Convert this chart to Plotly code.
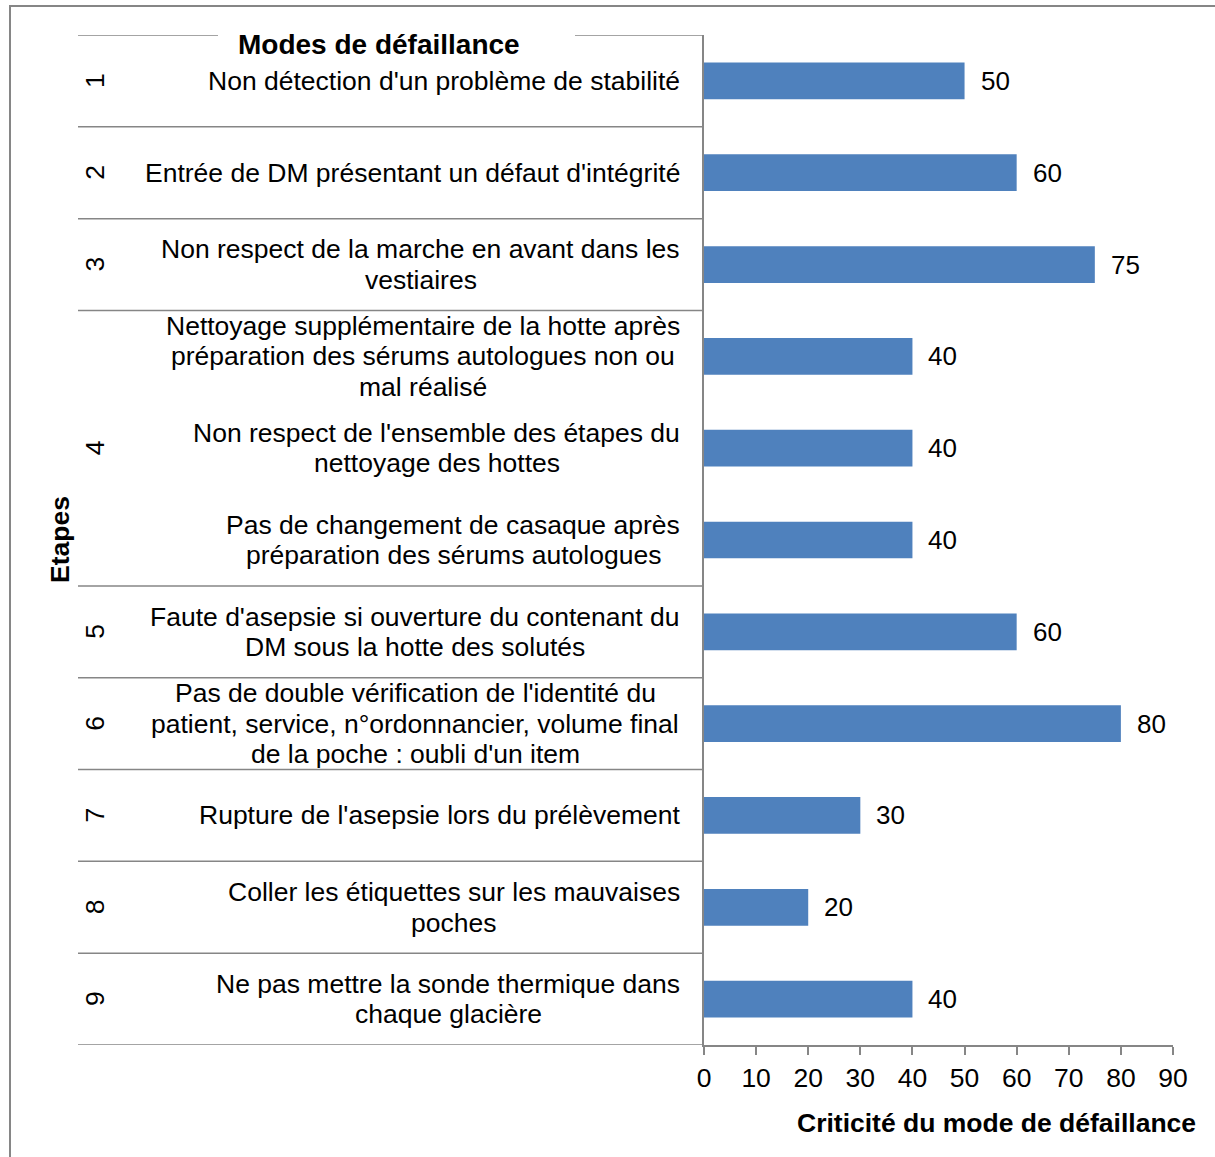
import unicodedata
import plotly.graph_objects as go

# Process steps, failure modes and their criticality scores
steps = ["1", "2", "3", "4", "4", "4", "5", "6", "7", "8", "9"]
modes = [
    "Non détection d'un problème de stabilité",
    "Entrée de DM présentant un défaut d'intégrité",
    "Non respect de la marche en avant dans les<br>vestiaires",
    "Nettoyage supplémentaire de la hotte après<br>préparation des sérums autologues non ou<br>mal réalisé",
    "Non respect de l'ensemble des étapes du<br>nettoyage des hottes",
    "Pas de changement de casaque après<br>préparation des sérums autologues",
    "Faute d'asepsie si ouverture du contenant du<br>DM sous la hotte des solutés",
    "Pas de double vérification de l'identité du<br>patient, service, n°ordonnancier, volume final<br>de la poche : oubli d'un item",
    "Rupture de l'asepsie lors du prélèvement",
    "Coller les étiquettes sur les mauvaises<br>poches",
    "Ne pas mettre la sonde thermique dans<br>chaque glacière",
]
criticity = [50, 60, 75, 40, 40, 40, 60, 80, 30, 20, 40]

x_ticks = [0, 10, 20, 30, 40, 50, 60, 70, 80, 90]
x_title = "Criticité du mode de défaillance"
y_title = "Etapes"
label_header = "Modes de défaillance"

FONT = "Liberation Sans, Arial, sans-serif"
FS = 26.5
LINE_PITCH = 30.6          # tight line spacing of the wrapped labels
LABEL_RIGHT = -24          # right edge of label blocks, px from the axis
BAR = "#4F81BD"
GREY = "#868686"
W, H = 1215, 1157
L, R, T, B = 704, 42, 35, 112
PW, PH = W - L - R, H - T - B

# Arial / Liberation Sans advance widths (1/1000 em)
ADV = dict(zip("abcdefghijklmnopqrstuvwxyz",
               [556, 556, 500, 556, 556, 278, 556, 556, 222, 222, 500, 222, 833,
                556, 556, 556, 556, 333, 500, 278, 556, 500, 722, 500, 500, 500]))
ADV.update(zip("ABCDEFGHIJKLMNOPQRSTUVWXYZ",
               [667, 667, 722, 722, 667, 611, 778, 722, 278, 500, 667, 556, 833,
                722, 778, 667, 778, 722, 667, 611, 722, 667, 944, 667, 667, 611]))
ADV.update({" ": 278, "'": 191, ",": 278, ":": 278, "°": 400, ".": 278})


def text_width(s):
    w = 0
    for ch in unicodedata.normalize("NFD", s):
        if unicodedata.combining(ch):
            continue
        w += ADV.get(ch, 556)
    return w * FS / 1000


def px_x(px):
    # horizontal pixel -> paper coordinate
    return (px - L) / PW


def px_y(py):
    # vertical pixel -> paper coordinate
    return (H - B - py) / PH


fig = go.Figure(
    go.Bar(
        x=criticity,
        y=modes,
        orientation="h",
        width=0.4,
        marker=dict(color=BAR, line=dict(width=0)),
        hoverinfo="x+y",
    )
)

annotations = []
shapes = []

# failure-mode labels: centred lines, block flush against the category axis
for m in modes:
    lines = m.split("<br>")
    n = len(lines)
    block_w = max(text_width(t) for t in lines)
    for k, t in enumerate(lines):
        annotations.append(dict(
            x=0, xref="paper", xshift=LABEL_RIGHT - block_w / 2, xanchor="center",
            y=m, yref="y", yanchor="middle",
            yshift=-(k - (n - 1) / 2) * LINE_PITCH,
            text=t, showarrow=False,
            font=dict(family=FONT, size=FS, color="#000000"),
        ))

# value labels beside each bar
for m, v in zip(modes, criticity):
    annotations.append(dict(
        x=v, xref="x", xshift=14, xanchor="left",
        y=m, yref="y", yanchor="middle",
        text=str(v), showarrow=False,
        font=dict(family=FONT, size=26, color="#000000"),
    ))

# step groups: rotated numbers and separator lines
groups = []
for i, s in enumerate(steps):
    if groups and groups[-1][0] == s:
        groups[-1][2] = i
    else:
        groups.append([s, i, i])

for s, a, b in groups:
    annotations.append(dict(
        x=0, xref="paper", xshift=-609, xanchor="center",
        y=(a + b) / 2, yref="y", yanchor="middle",
        text=s, textangle=-90, showarrow=False,
        font=dict(family=FONT, size=FS, color="#000000"),
    ))
    shapes.append(dict(
        type="line", xref="paper", yref="y",
        x0=px_x(78), x1=0, y0=b + 0.5, y1=b + 0.5,
        line=dict(color=GREY, width=1.5),
    ))

# top separator, interrupted by the header
for x0, x1 in [(78, 218), (575, 704)]:
    shapes.append(dict(
        type="line", xref="paper", yref="y",
        x0=px_x(x0), x1=px_x(x1), y0=-0.5, y1=-0.5,
        line=dict(color=GREY, width=1.5),
    ))

annotations.append(dict(
    x=px_x(379), xref="paper", xanchor="center",
    y=px_y(44), yref="paper", yanchor="middle",
    text="<b>" + label_header + "</b>", showarrow=False,
    font=dict(family=FONT, size=28, color="#000000"),
))

annotations.append(dict(
    x=px_x(60), xref="paper", xanchor="center",
    y=0.5, yref="paper", yanchor="middle",
    text="<b>" + y_title + "</b>", textangle=-90, showarrow=False,
    font=dict(family=FONT, size=FS, color="#000000"),
))

annotations.append(dict(
    x=px_x(1198), xref="paper", xanchor="right",
    y=px_y(1123), yref="paper", yanchor="middle",
    text="<b>" + x_title + "</b>", showarrow=False,
    font=dict(family=FONT, size=FS, color="#000000"),
))

# outer chart border
shapes.append(dict(
    type="rect", xref="paper", yref="paper",
    x0=px_x(10), x1=px_x(1225), y0=px_y(6), y1=px_y(1170),
    line=dict(color=GREY, width=2), fillcolor="rgba(0,0,0,0)",
))

fig.update_layout(
    width=W, height=H, autosize=False,
    margin=dict(l=L, r=R, t=T, b=B),
    paper_bgcolor="#FFFFFF", plot_bgcolor="#FFFFFF",
    showlegend=False,
    font=dict(family=FONT, size=FS, color="#000000"),
    annotations=annotations,
    shapes=shapes,
    bargap=0.6,
)

fig.update_xaxes(
    range=[0, 90], tickvals=x_ticks, ticktext=[str(t) for t in x_ticks],
    showgrid=False, zeroline=False,
    showline=True, linecolor=GREY, linewidth=1.5,
    ticks="outside", ticklen=8, tickcolor=GREY, tickwidth=1.5,
    tickfont=dict(family=FONT, size=FS, color="#000000"),
    ticklabelstandoff=0,
)
fig.update_yaxes(
    type="category", categoryorder="array", categoryarray=modes,
    range=[len(modes) - 0.5, -0.5],
    showticklabels=False, showgrid=False, zeroline=False,
    showline=True, linecolor=GREY, linewidth=1.5, ticks="",
)

fig.write_html("out.html")
